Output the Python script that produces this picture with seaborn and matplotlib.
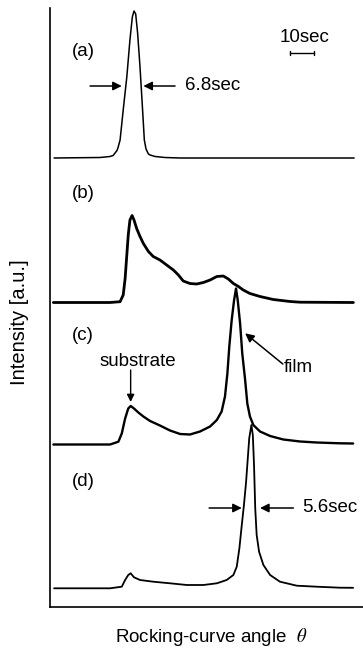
import matplotlib
matplotlib.use("Agg")
import matplotlib.pyplot as plt
import seaborn as sns
import pandas as pd

# ---- data (angle in arcsec, intensity in a.u. above each trace's baseline) ----
a_angle = [1.7, 20.8, 25.0, 26.3, 27.1, 27.9, 28.3, 29.2, 30.5, 32.0, 33.3, 34.3, 35.0, 35.7,
           36.5, 37.5, 38.5, 39.3, 40.0, 41.0, 41.7, 43.8, 47.9, 54.2, 126.7]
a_int = [0, 0.5, 1.5, 2.5, 5, 7.5, 10, 18, 48, 81, 118, 141, 147, 144,
         125, 91, 51, 18, 9, 4, 3, 1.5, 0.5, 0, 0]

b_angle = [1.4, 25.0, 29.2, 30.5, 31.3, 32.0, 32.6, 33.3, 34.2, 35.0, 36.1, 37.5, 38.9, 41.0,
           43.0, 45.8, 48.6, 51.4, 53.5, 55.5, 58.3, 61.1, 63.9, 66.7, 69.5, 72.2, 74.3,
           76.4, 78.5, 80.5, 83.3, 87.5, 93.0, 100.0, 104.2, 126.4]
b_int = [0, 0, 0.8, 7.5, 24, 47.5, 67.5, 82.5, 87, 82.5, 74, 66, 59, 51,
         46, 42.5, 37.5, 32.5, 27.5, 21.5, 19, 18.5, 20, 22.5, 26, 26.5, 23.5,
         19, 16, 12.5, 9, 6, 3, 1, 0.3, 0]

c_angle = [1.4, 25.0, 28.5, 29.9, 31.3, 32.6, 33.6, 35.0, 36.8, 38.9, 41.7, 45.8, 50.0, 54.2,
           58.3, 62.5, 66.7, 69.5, 71.5, 72.9, 73.9, 74.7, 75.7, 76.7, 77.5, 78.2, 79.2,
           80.1, 81.3, 82.2, 83.3, 84.7, 87.5, 91.7, 97.2, 104.2, 111.1, 120.8, 126.3]
c_int = [0, 0, 2.8, 11, 26, 36, 38.5, 36, 32, 28, 23.5, 19, 14, 10.5,
         10, 13, 18, 24.5, 33, 48, 71, 98, 124.5, 144.5, 156, 144.5, 121,
         91, 64.5, 41, 28, 19.5, 13, 8.5, 5, 3, 2, 1.2, 1]

d_angle = [1.7, 25.0, 29.9, 31.3, 32.6, 33.6, 35.0, 37.5, 43.0, 50.0, 57.0, 63.9, 69.5, 73.6,
           76.4, 77.8, 78.9, 79.9, 80.8, 81.7, 82.4, 83.0, 83.9, 84.5, 85.0, 85.5, 86.1,
           87.1, 88.9, 91.7, 95.8, 102.8, 111.1, 120.8, 126.3]
d_int = [0, 0, 1.6, 8.3, 13.3, 15, 11, 8.3, 6.6, 5, 3.3, 3.3, 5, 8.3,
         13.3, 21.6, 40, 63.3, 83.3, 106.6, 130, 150, 163.3, 153.3, 123.3, 80, 53.3,
         36.6, 23.3, 13.3, 6.6, 2.6, 1.6, 0.6, 0.5]

trace_labels = ["(a)", "(b)", "(c)", "(d)"]
trace_offsets = [449, 304.5, 162.5, 18.7]
fwhm_a = "6.8sec"
fwhm_d = "5.6sec"
scale_len = 10  # sec

# ---- style ----
sns.set_style("white")
plt.rcParams["font.family"] = ["Liberation Sans", "DejaVu Sans"]
plt.rcParams["mathtext.fontset"] = "stix"
plt.rcParams["text.color"] = "black"

fig = plt.figure(figsize=(3.63, 6.49), dpi=100)
ax = fig.add_axes([50 / 363, 42 / 649, 313 / 363, 599 / 649])

curves = [(a_angle, a_int, 1.1), (b_angle, b_int, 2.0),
          (c_angle, c_int, 1.7), (d_angle, d_int, 1.3)]
for (xs, ys, lw), off in zip(curves, trace_offsets):
    df = pd.DataFrame({"angle": xs, "signal": [v + off for v in ys]})
    sns.lineplot(data=df, x="angle", y="signal", ax=ax, color="black",
                 linewidth=lw, estimator=None, sort=False)

ax.set_xlim(0, 130.4)
ax.set_ylim(0, 599)
ax.set_xticks([])
ax.set_yticks([])
ax.set_xlabel("")
ax.set_ylabel("")
for s in ["top", "right"]:
    ax.spines[s].set_visible(False)
for s in ["left", "bottom"]:
    ax.spines[s].set_color("black")
    ax.spines[s].set_linewidth(1.2)

fs = 13.5
# trace labels
for lab, y in zip(trace_labels, [555, 414, 272, 125]):
    ax.text(9.2, y, lab, fontsize=fs, ha="left", va="center", color="black")

arrow = dict(arrowstyle="-|>", mutation_scale=13, lw=1.1, color="black",
             shrinkA=0, shrinkB=0)

# (a) FWHM arrows
ax.annotate("", xy=(29.9, 521), xytext=(16.7, 521), arrowprops=arrow)
ax.annotate("", xy=(38.9, 521), xytext=(52.1, 521), arrowprops=arrow)
ax.text(56.3, 521, fwhm_a, fontsize=fs, ha="left", va="center", color="black")

# (d) FWHM arrows
ax.annotate("", xy=(79.9, 99), xytext=(66.3, 99), arrowprops=arrow)
ax.annotate("", xy=(87.5, 99), xytext=(101.4, 99), arrowprops=arrow)
ax.text(104.9, 99, fwhm_d, fontsize=fs, ha="left", va="center", color="black")

# scale bar
ax.text(106.1, 570, f"{scale_len}sec", fontsize=fs, ha="center", va="center",
        color="black")
ax.plot([100, 100 + scale_len], [553.7, 553.7], color="black", lw=1.0)
ax.plot([100, 100], [551.7, 555.7], color="black", lw=1.0)
ax.plot([100 + scale_len, 100 + scale_len], [551.7, 555.7], color="black", lw=1.0)

# substrate / film annotations
ax.text(36.7, 245, "substrate", fontsize=fs, ha="center", va="center", color="black")
ax.annotate("", xy=(33.6, 205), xytext=(33.6, 237),
            arrowprops=dict(arrowstyle="-|>", mutation_scale=11, lw=1.0,
                            color="black", shrinkA=0, shrinkB=0))
ax.text(97.5, 239, "film", fontsize=fs, ha="left", va="center", color="black")
ax.annotate("", xy=(81.3, 273.7), xytext=(97.0, 243), arrowprops=arrow)

# axis labels
fig.text(20 / 363, 1 - 322 / 649, "Intensity [a.u.]", rotation=90,
         fontsize=14.5, ha="center", va="center", color="black")
fig.text(211 / 363, 1 - 637 / 649, r"Rocking-curve angle  $\it{\theta}$",
         fontsize=13.5, ha="center", va="center", color="black")

fig.savefig("out.png", dpi=100)
